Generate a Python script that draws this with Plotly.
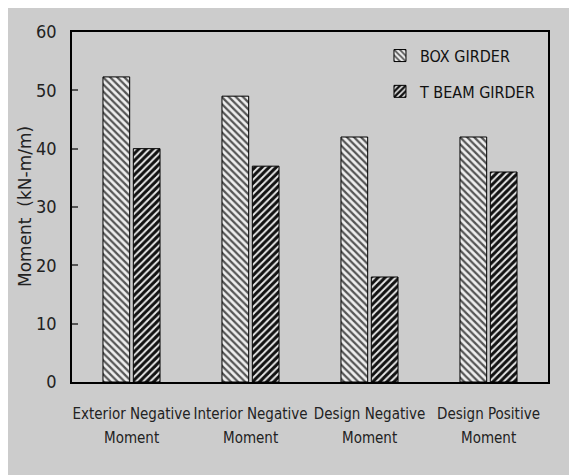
import plotly.graph_objects as go

categories = ["Exterior Negative Moment", "Interior Negative Moment",
              "Design Negative Moment", "Design Positive Moment"]
box_girder = [52.3, 49.0, 42.0, 42.0]
t_beam_girder = [40.0, 37.0, 18.0, 36.0]
y_ticks = [0, 10, 20, 30, 40, 50, 60]
y_title = "Moment  (kN-m/m)"

W, H = 577, 475
L, T = 64, 24
pw, ph = 476, 350
R, B = W - L - pw, H - T - ph

line1 = [c.rsplit(" ", 1)[0] for c in categories]
line2 = [c.rsplit(" ", 1)[1] for c in categories]

fig = go.Figure()
fig.add_trace(go.Bar(
    x=categories, y=box_girder, name="BOX GIRDER", legendgroup="a",
    marker=dict(color="#f2f2f2", line=dict(color="black", width=1),
                pattern=dict(shape="\\", fgcolor="#555555", bgcolor="#eeeeee",
                             size=5, solidity=0.45, fillmode="replace")),
))
fig.add_trace(go.Bar(
    x=categories, y=t_beam_girder, name="T BEAM GIRDER", legendgroup="b",
    marker=dict(color="#333333", line=dict(color="black", width=1),
                pattern=dict(shape="/", fgcolor="#111111", bgcolor="#e8e8e8",
                             size=5, solidity=0.6, fillmode="replace")),
))

font_main = "DejaVu Sans Condensed, Liberation Sans, sans-serif"
for c, t2 in zip(categories, line2):
    fig.add_annotation(x=c, xref="x", y=-(438 - 8 - T - ph) / ph, yref="paper",
                       text=t2, showarrow=False, yanchor="middle",
                       font=dict(family=font_main, size=15, color="#222222"))

fig.add_annotation(x=(25 - 8 - L) / pw, xref="paper", y=0.5, yref="paper",
                   text=y_title, textangle=-90, showarrow=False,
                   xanchor="center", yanchor="middle",
                   font=dict(family="DejaVu Sans", size=17, color="#222222"))

fig.update_layout(
    width=W, height=H,
    margin=dict(l=L, r=R, t=T, b=B, autoexpand=False),
    paper_bgcolor="#cccccc", plot_bgcolor="#cccccc",
    barmode="group", bargap=0.49, bargroupgap=0.12,
    font=dict(family=font_main, size=15, color="#222222"),
    showlegend=True,
    legend=dict(x=0.647, y=0.981, xanchor="left", yanchor="top",
                bgcolor="rgba(0,0,0,0)", font=dict(family=font_main, size=16, color="#111111"),
                itemwidth=30, tracegroupgap=12, traceorder="grouped"),
    xaxis=dict(showline=True, linecolor="black", linewidth=1.5, mirror=True,
               ticks="", tickangle=0, automargin=False,
               tickvals=categories, ticktext=line1,
               tickfont=dict(family=font_main, size=15, color="#222222"),
               ticklabelstandoff=17),
    yaxis=dict(range=[0, 60], tickvals=y_ticks, showgrid=False, zeroline=False,
               showline=True, linecolor="black", linewidth=1.5, mirror=True,
               automargin=False,
               ticks="inside", ticklen=6, tickcolor="#555555", tickwidth=2,
               ticklabelstandoff=10,
               tickfont=dict(family=font_main, size=18, color="#222222")),
)

fig.write_html("out.html")
